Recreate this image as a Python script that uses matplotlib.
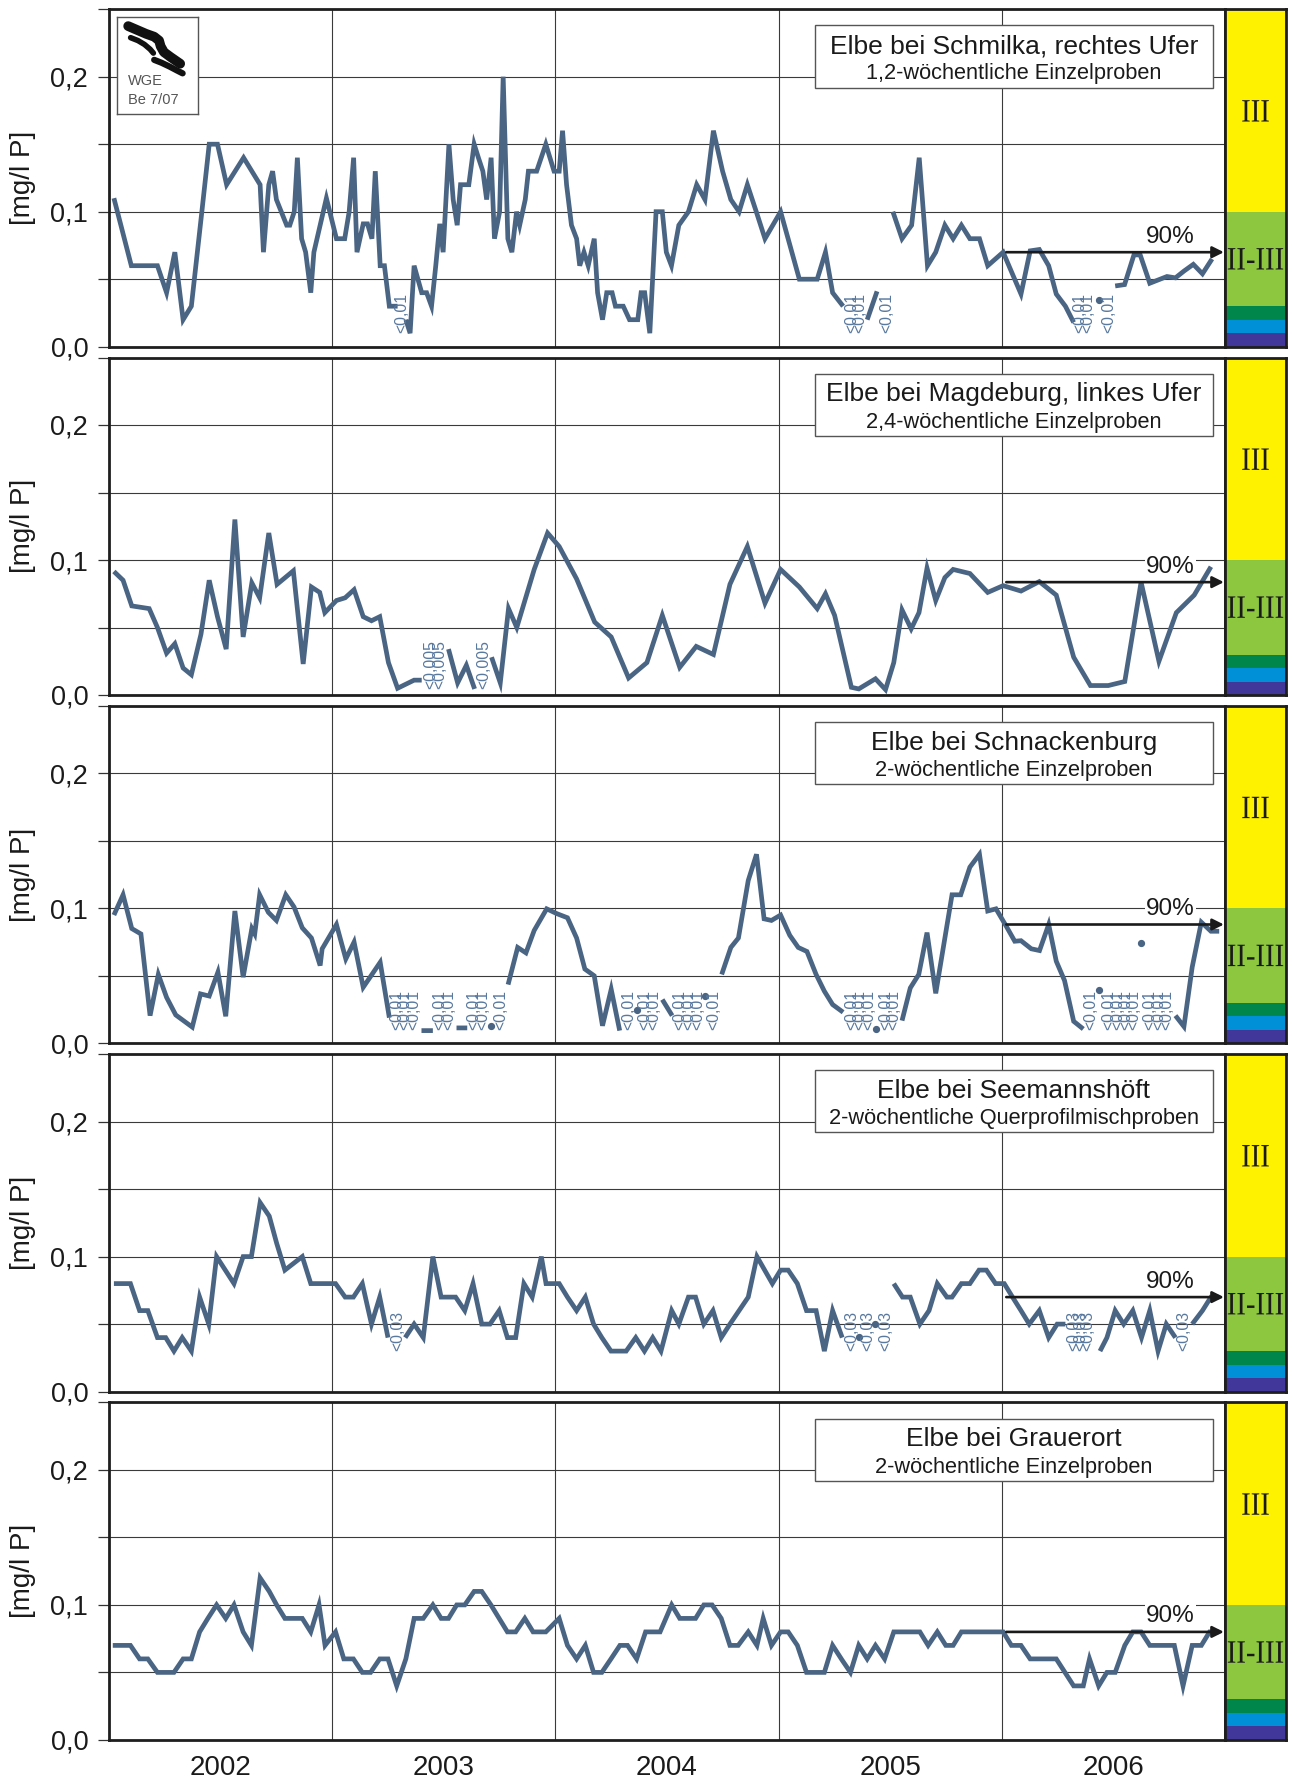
import numpy as np
import matplotlib
matplotlib.use("Agg")
import matplotlib.pyplot as plt
import matplotlib.transforms as mtrans
from matplotlib.patches import Rectangle, PathPatch
from matplotlib.textpath import TextPath
from matplotlib.font_manager import FontProperties

plt.rcParams["font.family"] = ["Liberation Sans", "DejaVu Sans"]

nan = np.nan

# ---- station names / sampling ----
stations = ["Elbe bei Schmilka, rechtes Ufer", "Elbe bei Magdeburg, linkes Ufer",
            "Elbe bei Schnackenburg", "Elbe bei Seemannshöft", "Elbe bei Grauerort"]
sampling = ["1,2-wöchentliche Einzelproben", "2,4-wöchentliche Einzelproben",
            "2-wöchentliche Einzelproben", "2-wöchentliche Querprofilmischproben",
            "2-wöchentliche Einzelproben"]

# 90-percentile of the final year per station [mg/l P]
p90_2006 = [0.070, 0.0836, 0.088, 0.070, 0.080]

# ---- measurements: decimal year / mg/l P (nan = below detection limit) ----
schmilka_t = [2002.022, 2002.100, 2002.217, 2002.258, 2002.295, 2002.332, 2002.369, 2002.416, 2002.449, 2002.486,
              2002.527, 2002.603, 2002.677, 2002.692, 2002.716, 2002.733, 2002.750, 2002.796, 2002.810, 2002.830,
              2002.844, 2002.863, 2002.881, 2002.904, 2002.918, 2002.974, 2003.019, 2003.056, 2003.076, 2003.096,
              2003.111, 2003.139, 2003.158, 2003.178, 2003.193, 2003.215, 2003.234, 2003.256, 2003.293, 2003.312,
              2003.330, 2003.349, 2003.367, 2003.401, 2003.423, 2003.445, 2003.464, 2003.482, 2003.497, 2003.523,
              2003.542, 2003.560, 2003.575, 2003.612, 2003.636, 2003.655, 2003.675, 2003.692, 2003.712, 2003.727,
              2003.750, 2003.766, 2003.787, 2003.805, 2003.826, 2003.840, 2003.865, 2003.879, 2003.916, 2003.957,
              2003.994, 2004.017, 2004.032, 2004.050, 2004.072, 2004.095, 2004.109, 2004.128, 2004.147, 2004.174,
              2004.189, 2004.211, 2004.230, 2004.254, 2004.269, 2004.304, 2004.332, 2004.369, 2004.384, 2004.400,
              2004.423, 2004.451, 2004.479, 2004.497, 2004.520, 2004.553, 2004.596, 2004.633, 2004.670, 2004.708,
              2004.749, 2004.786, 2004.823, 2004.860, 2004.900, 2004.939, 2005.009, 2005.093, 2005.173, 2005.210,
              2005.242, 2005.289, 2005.326, 2005.397, 2005.441, 2005.484, 2005.512, 2005.553, 2005.596, 2005.630,
              2005.667, 2005.704, 2005.745, 2005.782, 2005.819, 2005.857, 2005.900, 2005.937, 2006.006, 2006.086,
              2006.127, 2006.168, 2006.210, 2006.244, 2006.285, 2006.322, 2006.350, 2006.434, 2006.480, 2006.508,
              2006.550, 2006.592, 2006.620, 2006.663, 2006.740, 2006.778, 2006.816, 2006.858, 2006.899, 2006.942]
schmilka_p = [0.110, 0.060, 0.060, 0.040, 0.070, 0.020, 0.030, 0.100, 0.150, 0.150,
              0.120, 0.140, 0.120, 0.070, 0.120, 0.130, 0.109, 0.090, 0.090, 0.100,
              0.140, 0.080, 0.070, 0.040, 0.070, 0.110, 0.080, 0.080, 0.100, 0.140,
              0.070, 0.091, 0.091, 0.080, 0.130, 0.060, 0.060, 0.030, 0.030, nan,
              0.020, 0.010, 0.060, 0.040, 0.040, 0.030, 0.060, 0.091, 0.070, 0.150,
              0.109, 0.090, 0.120, 0.120, 0.150, 0.140, 0.130, 0.109, 0.140, 0.080,
              0.100, 0.200, 0.080, 0.070, 0.100, 0.090, 0.109, 0.130, 0.130, 0.150,
              0.130, 0.130, 0.160, 0.120, 0.090, 0.080, 0.060, 0.070, 0.060, 0.080,
              0.040, 0.020, 0.040, 0.040, 0.030, 0.030, 0.020, 0.020, 0.040, 0.040,
              0.010, 0.100, 0.100, 0.070, 0.060, 0.090, 0.100, 0.120, 0.109, 0.160,
              0.130, 0.109, 0.100, 0.120, 0.100, 0.080, 0.100, 0.050, 0.050, 0.070,
              0.040, 0.030, nan, 0.020, 0.041, nan, 0.100, 0.080, 0.090, 0.140,
              0.060, 0.070, 0.090, 0.080, 0.090, 0.080, 0.080, 0.060, 0.070, 0.039,
              0.071, 0.072, 0.060, 0.039, 0.030, 0.018, nan, 0.0345, nan, 0.045,
              0.046, 0.068, 0.068, 0.047, 0.052, 0.051, 0.056, 0.061, 0.054, 0.065]

magdeburg_t = [2002.022, 2002.063, 2002.102, 2002.180, 2002.217, 2002.258, 2002.295, 2002.332, 2002.369, 2002.412,
               2002.449, 2002.486, 2002.525, 2002.564, 2002.601, 2002.640, 2002.675, 2002.716, 2002.753, 2002.826,
               2002.870, 2002.907, 2002.944, 2002.967, 2003.019, 2003.058, 2003.098, 2003.139, 2003.176, 2003.213,
               2003.252, 2003.293, 2003.367, 2003.401, 2003.442, 2003.521, 2003.562, 2003.601, 2003.638, 2003.679,
               2003.714, 2003.753, 2003.790, 2003.827, 2003.905, 2003.965, 2004.017, 2004.095, 2004.176, 2004.250,
               2004.328, 2004.410, 2004.479, 2004.557, 2004.631, 2004.708, 2004.782, 2004.860, 2004.939, 2005.009,
               2005.093, 2005.173, 2005.210, 2005.251, 2005.326, 2005.359, 2005.434, 2005.479, 2005.516, 2005.553,
               2005.594, 2005.629, 2005.665, 2005.704, 2005.745, 2005.782, 2005.857, 2005.937, 2006.006, 2006.086,
               2006.168, 2006.244, 2006.322, 2006.397, 2006.477, 2006.551, 2006.624, 2006.704, 2006.782, 2006.862,
               2006.937]
magdeburg_p = [0.0915, 0.085, 0.066, 0.064, 0.050, 0.031, 0.038, 0.020, 0.015, 0.045,
               0.085, 0.058, 0.034, 0.130, 0.043, 0.083, 0.072, 0.120, 0.082, 0.092,
               0.023, 0.080, 0.076, 0.061, 0.070, 0.072, 0.078, 0.058, 0.055, 0.058,
               0.024, 0.005, 0.011, 0.011, nan, 0.034, 0.009, 0.022, 0.0045, nan,
               0.028, 0.009, 0.064, 0.050, 0.093, 0.120, 0.110, 0.086, 0.054, 0.043,
               0.0126, 0.024, 0.059, 0.0205, 0.036, 0.030, 0.082, 0.110, 0.068, 0.093,
               0.080, 0.064, 0.075, 0.059, 0.0057, 0.0045, 0.012, 0.004, 0.024, 0.063,
               0.049, 0.061, 0.094, 0.070, 0.087, 0.093, 0.090, 0.076, 0.081, 0.077,
               0.084, 0.074, 0.028, 0.007, 0.007, 0.010, 0.0836, 0.025, 0.061, 0.074,
               0.095]

schnackenburg_t = [2002.022, 2002.063, 2002.102, 2002.143, 2002.184, 2002.221, 2002.258, 2002.299, 2002.373, 2002.410,
                   2002.449, 2002.488, 2002.523, 2002.564, 2002.601, 2002.640, 2002.653, 2002.675, 2002.714, 2002.750,
                   2002.792, 2002.829, 2002.866, 2002.907, 2002.946, 2002.955, 2003.019, 2003.061, 2003.098, 2003.139,
                   2003.215, 2003.256, 2003.288, 2003.400, 2003.451, 2003.484, 2003.557, 2003.605, 2003.636, 2003.713,
                   2003.757, 2003.788, 2003.831, 2003.868, 2003.905, 2003.961, 2004.007, 2004.054, 2004.095, 2004.132,
                   2004.174, 2004.211, 2004.250, 2004.288, 2004.328, 2004.365, 2004.400, 2004.479, 2004.523, 2004.557,
                   2004.669, 2004.711, 2004.745, 2004.786, 2004.820, 2004.864, 2004.901, 2004.935, 2004.968, 2005.009,
                   2005.050, 2005.088, 2005.127, 2005.168, 2005.205, 2005.242, 2005.289, 2005.326, 2005.438, 2005.479,
                   2005.553, 2005.590, 2005.628, 2005.665, 2005.704, 2005.777, 2005.816, 2005.857, 2005.900, 2005.937,
                   2005.974, 2006.019, 2006.058, 2006.086, 2006.132, 2006.169, 2006.210, 2006.244, 2006.281, 2006.322,
                   2006.365, 2006.397, 2006.434, 2006.480, 2006.624, 2006.663, 2006.778, 2006.816, 2006.853, 2006.894,
                   2006.937, 2006.974]
schnackenburg_p = [0.095, 0.110, 0.085, 0.081, 0.0205, 0.051, 0.034, 0.021, 0.012, 0.0366,
                   0.035, 0.0527, 0.020, 0.098, 0.049, 0.085, 0.081, 0.110, 0.097, 0.091,
                   0.110, 0.101, 0.0855, 0.078, 0.0576, 0.070, 0.088, 0.0625, 0.075, 0.0415,
                   0.060, 0.019, nan, 0.0094, 0.0094, nan, 0.0114, 0.0114, nan, 0.013,
                   nan, 0.0435, 0.071, 0.067, 0.0836, 0.0996, 0.096, 0.093, 0.078, 0.055,
                   0.050, 0.013, 0.040, 0.0094, nan, 0.0247, nan, 0.0324, 0.0205, nan,
                   0.035, nan, 0.051, 0.071, 0.078, 0.1206, 0.140, 0.0922, 0.091, 0.095,
                   0.080, 0.071, 0.068, 0.051, 0.0386, 0.0287, 0.023, nan, 0.0106, nan,
                   0.0168, 0.041, 0.051, 0.082, 0.037, 0.110, 0.110, 0.1305, 0.140, 0.098,
                   0.0996, 0.087, 0.0756, 0.076, 0.070, 0.0687, 0.088, 0.0608, 0.0465, 0.0163,
                   0.0106, nan, 0.0396, nan, 0.0744, nan, 0.0205, 0.0124, 0.0564, 0.0897,
                   0.083, 0.083]

seemannshoeft_t = [2002.022, 2002.096, 2002.137, 2002.174, 2002.217, 2002.254, 2002.291, 2002.328, 2002.369, 2002.406,
                   2002.447, 2002.482, 2002.560, 2002.601, 2002.638, 2002.677, 2002.718, 2002.751, 2002.788, 2002.866,
                   2002.904, 2003.015, 2003.058, 2003.095, 2003.135, 2003.176, 2003.213, 2003.250, 2003.293, 2003.327,
                   2003.367, 2003.408, 2003.451, 2003.488, 2003.553, 2003.594, 2003.631, 2003.670, 2003.707, 2003.748,
                   2003.785, 2003.822, 2003.859, 2003.896, 2003.937, 2003.958, 2004.017, 2004.054, 2004.095, 2004.134,
                   2004.171, 2004.208, 2004.249, 2004.317, 2004.360, 2004.399, 2004.436, 2004.473, 2004.521, 2004.553,
                   2004.596, 2004.628, 2004.665, 2004.706, 2004.743, 2004.782, 2004.823, 2004.864, 2004.903, 2004.972,
                   2005.009, 2005.043, 2005.084, 2005.125, 2005.168, 2005.205, 2005.242, 2005.285, 2005.326, 2005.359,
                   2005.400, 2005.434, 2005.479, 2005.516, 2005.555, 2005.590, 2005.633, 2005.674, 2005.711, 2005.754,
                   2005.777, 2005.819, 2005.857, 2005.898, 2005.931, 2005.972, 2006.011, 2006.048, 2006.086, 2006.123,
                   2006.168, 2006.210, 2006.248, 2006.285, 2006.322, 2006.440, 2006.471, 2006.508, 2006.546, 2006.587,
                   2006.626, 2006.663, 2006.700, 2006.737, 2006.778, 2006.816, 2006.853, 2006.899, 2006.937, 2006.974]
seemannshoeft_p = [0.080, 0.080, 0.060, 0.060, 0.040, 0.040, 0.030, 0.040, 0.030, 0.070,
                   0.050, 0.100, 0.080, 0.100, 0.100, 0.140, 0.130, 0.110, 0.090, 0.100,
                   0.080, 0.080, 0.070, 0.070, 0.080, 0.050, 0.070, 0.040, nan, 0.040,
                   0.050, 0.040, 0.100, 0.070, 0.070, 0.060, 0.080, 0.050, 0.050, 0.060,
                   0.040, 0.040, 0.080, 0.070, 0.100, 0.080, 0.080, 0.070, 0.060, 0.070,
                   0.050, 0.040, 0.030, 0.030, 0.040, 0.030, 0.040, 0.030, 0.060, 0.050,
                   0.070, 0.070, 0.050, 0.060, 0.040, 0.050, 0.060, 0.070, 0.100, 0.080,
                   0.090, 0.090, 0.080, 0.060, 0.060, 0.030, 0.060, 0.040, nan, 0.0405,
                   nan, 0.050, nan, 0.080, 0.070, 0.070, 0.050, 0.060, 0.080, 0.070,
                   0.070, 0.080, 0.080, 0.090, 0.090, 0.080, 0.080, 0.070, 0.060, 0.050,
                   0.060, 0.040, 0.050, 0.050, nan, 0.030, 0.040, 0.060, 0.050, 0.060,
                   0.040, 0.060, 0.030, 0.050, 0.040, nan, 0.050, 0.060, 0.070, 0.070]

grauerort_t = [2002.017, 2002.096, 2002.137, 2002.174, 2002.217, 2002.291, 2002.332, 2002.369, 2002.406, 2002.443,
               2002.482, 2002.523, 2002.560, 2002.601, 2002.638, 2002.677, 2002.718, 2002.751, 2002.788, 2002.866,
               2002.904, 2002.941, 2002.968, 2003.015, 2003.052, 2003.095, 2003.135, 2003.172, 2003.213, 2003.250,
               2003.289, 2003.330, 2003.367, 2003.408, 2003.451, 2003.488, 2003.521, 2003.558, 2003.594, 2003.636,
               2003.670, 2003.711, 2003.748, 2003.785, 2003.822, 2003.863, 2003.900, 2003.957, 2004.017, 2004.054,
               2004.095, 2004.134, 2004.171, 2004.208, 2004.249, 2004.289, 2004.323, 2004.364, 2004.404, 2004.469,
               2004.521, 2004.557, 2004.628, 2004.665, 2004.702, 2004.743, 2004.782, 2004.819, 2004.864, 2004.903,
               2004.931, 2004.968, 2005.009, 2005.043, 2005.084, 2005.125, 2005.205, 2005.242, 2005.285, 2005.322,
               2005.359, 2005.397, 2005.434, 2005.475, 2005.516, 2005.633, 2005.670, 2005.711, 2005.749, 2005.782,
               2005.819, 2006.006, 2006.043, 2006.086, 2006.127, 2006.244, 2006.322, 2006.365, 2006.393, 2006.434,
               2006.471, 2006.508, 2006.551, 2006.587, 2006.624, 2006.663, 2006.773, 2006.812, 2006.853, 2006.894,
               2006.931, 2006.974]
grauerort_p = [0.070, 0.070, 0.060, 0.060, 0.050, 0.050, 0.060, 0.060, 0.080, 0.090,
               0.100, 0.090, 0.100, 0.080, 0.070, 0.120, 0.110, 0.100, 0.090, 0.090,
               0.080, 0.100, 0.070, 0.080, 0.060, 0.060, 0.050, 0.050, 0.060, 0.060,
               0.040, 0.060, 0.090, 0.090, 0.100, 0.090, 0.090, 0.100, 0.100, 0.110,
               0.110, 0.100, 0.090, 0.080, 0.080, 0.090, 0.080, 0.080, 0.090, 0.070,
               0.060, 0.070, 0.050, 0.050, 0.060, 0.070, 0.070, 0.060, 0.080, 0.080,
               0.100, 0.090, 0.090, 0.100, 0.100, 0.090, 0.070, 0.070, 0.080, 0.070,
               0.090, 0.070, 0.080, 0.080, 0.070, 0.050, 0.050, 0.070, 0.059, 0.050,
               0.070, 0.060, 0.070, 0.060, 0.080, 0.080, 0.070, 0.080, 0.070, 0.070,
               0.080, 0.080, 0.070, 0.070, 0.060, 0.060, 0.040, 0.040, 0.060, 0.040,
               0.050, 0.050, 0.070, 0.080, 0.080, 0.070, 0.070, 0.040, 0.070, 0.070,
               0.080, 0.080]

# ---- samples below the detection limit (date, limit text, limit value) ----
schmilka_bdl = [2003.312, 2005.326, 2005.363, 2005.484, 2006.350, 2006.387, 2006.480]
magdeburg_bdl = [2003.442, 2003.482, 2003.679]
schnackenburg_bdl = [2003.288, 2003.325, 2003.364, 2003.484, 2003.521, 2003.636, 2003.673, 2003.757,
                     2004.328, 2004.400, 2004.441, 2004.557, 2004.596, 2004.637, 2004.711,
                     2005.326, 2005.363, 2005.404, 2005.479, 2005.516,
                     2006.397, 2006.480, 2006.518, 2006.555, 2006.592, 2006.663, 2006.704, 2006.741]
seemannshoeft_bdl = [2003.293, 2005.326, 2005.400, 2005.479, 2006.322, 2006.354, 2006.387, 2006.816]
grauerort_bdl = []
bdl_text = ["<0,01", "<0,005", "<0,01", "<0,03", ""]
bdl_value = [0.010, 0.0045, 0.0095, 0.030, 0.0]

series_t = [schmilka_t, magdeburg_t, schnackenburg_t, seemannshoeft_t, grauerort_t]
series_p = [schmilka_p, magdeburg_p, schnackenburg_p, seemannshoeft_p, grauerort_p]
series_bdl = [schmilka_bdl, magdeburg_bdl, schnackenburg_bdl, seemannshoeft_bdl, grauerort_bdl]

# ---- quality classes ----
class_edges = [0.0, 0.01, 0.02, 0.03, 0.10, 0.25]
class_colors = ["#41369a", "#0090d8", "#00854a", "#8dc63f", "#fff200"]
class_labels = [(0.1747, "III"), (0.0651, "II-III")]

years = [2002, 2003, 2004, 2005, 2006]
yticks = [0.0, 0.05, 0.10, 0.15, 0.20, 0.25]
ytick_labels = ["0,0", "", "0,1", "", "0,2", ""]

LINE = "#4a6484"
LABEL = "#58789e"
FRAME = "#1e1e1e"

W, H = 1292, 1782
DPI = 100
fig = plt.figure(figsize=(W / DPI, H / DPI), dpi=DPI)

left_px, plot_w_px, cbar_w_px = 109, 1116, 61
first_bottom_px, pitch_px, panel_h_px = 346.7, 348.3, 337.5

serif = FontProperties(family=["Liberation Serif", "DejaVu Serif"])


def narrow_label(ax, x, y, s, size_pt, xscale):
    """Centred, horizontally condensed text drawn as a path."""
    tp = TextPath((0, 0), s, size=size_pt, prop=serif)
    bb = tp.get_extents()
    k = DPI / 72.0
    tr = (mtrans.Affine2D().translate(-(bb.x0 + bb.x1) / 2, -(bb.y0 + bb.y1) / 2)
          .scale(xscale * k, k)
          + mtrans.ScaledTranslation(x, y, ax.transData))
    patch = PathPatch(tp, transform=tr, facecolor="#1a1a1a", lw=0, zorder=5, clip_on=False)
    ax.add_artist(patch)


for i in range(5):
    bot = 1 - (first_bottom_px + pitch_px * i) / H
    ax = fig.add_axes([left_px / W, bot, plot_w_px / W, panel_h_px / H])
    cax = fig.add_axes([(left_px + plot_w_px) / W, bot, cbar_w_px / W, panel_h_px / H])

    ax.set_xlim(2002, 2007)
    ax.set_ylim(0, 0.25)

    t = np.array(series_t[i], float)
    p = np.array(series_p[i], float)
    ax.plot(t, p, color=LINE, lw=3.4, solid_joinstyle="miter", solid_capstyle="butt", zorder=3)
    prev_nan = np.isnan(np.r_[nan, p[:-1]])
    next_nan = np.isnan(np.r_[p[1:], nan])
    iso = ~np.isnan(p) & prev_nan & next_nan
    ax.plot(t[iso], p[iso], "o", color=LINE, ms=4.2, zorder=3)

    for d in series_bdl[i]:
        ax.text(d, bdl_value[i], bdl_text[i], rotation=90, ha="center", va="bottom",
                fontsize=11.3, color=LABEL, zorder=4)

    # grid and ticks
    ax.set_yticks(yticks)
    ax.set_yticklabels(ytick_labels, fontsize=19.5, color="#1a1a1a")
    ax.set_xticks([2003, 2004, 2005, 2006])
    ax.set_xticklabels([])
    ax.grid(True, which="major", color="#3a3a3a", lw=0.8, zorder=1)
    ax.tick_params(axis="y", direction="out", length=8, width=0.9, pad=7, color="#333")
    ax.tick_params(axis="x", which="both", length=0)
    if i == 4:
        ax.set_xticks([y + 0.5 for y in years], minor=True)
        ax.set_xticklabels([str(y) for y in years], minor=True, fontsize=20, color="#1a1a1a")
        ax.tick_params(axis="x", which="minor", pad=11)
    for s in ax.spines.values():
        s.set_linewidth(2.0)
        s.set_color(FRAME)
        s.set_zorder(6)

    ax.set_ylabel("[mg/l P]", fontsize=20, color="#1a1a1a")
    ax.yaxis.set_label_coords(-0.0655, 0.5)

    # station box
    ax.add_patch(Rectangle((2005.162, 0.192), 1.784, 0.046, facecolor="white",
                           edgecolor="#555555", lw=1.0, zorder=5))
    ax.text(2006.054, 0.2175, stations[i], ha="center", va="baseline", fontsize=19,
            color="#1a1a1a", zorder=6)
    ax.text(2006.054, 0.198, sampling[i], ha="center", va="baseline", fontsize=15.7,
            color="#1a1a1a", zorder=6)

    # 90-percentile arrow
    lvl = p90_2006[i]
    ax.annotate("", xy=(2006.995, lvl), xytext=(2006.02, lvl),
                arrowprops=dict(arrowstyle="-|>", lw=1.9, color="#1a1a1a",
                                mutation_scale=17, shrinkA=0, shrinkB=0), zorder=5)
    ax.text(2006.756, lvl + 0.0115, "90%", ha="center", va="center", fontsize=17.5,
            color="#1a1a1a", zorder=5,
            bbox=dict(facecolor="white", edgecolor="none", pad=1.0))

    # class colour bar
    cax.set_xlim(0, 1)
    cax.set_ylim(0, 0.25)
    for k in range(len(class_colors)):
        cax.axhspan(class_edges[k], class_edges[k + 1], color=class_colors[k], lw=0)
    for yv, lab in class_labels:
        narrow_label(cax, 0.5, yv, lab, 23.5, 0.88)
    cax.set_xticks([])
    cax.set_yticks([])
    for s in cax.spines.values():
        s.set_linewidth(2.0)
        s.set_color(FRAME)

    if i == 0:
        logo = ax.inset_axes([0.007, 0.690, 0.0728, 0.2856])
        logo.set_xlim(0, 1)
        logo.set_ylim(0, 1)
        logo.set_xticks([])
        logo.set_yticks([])
        for s in logo.spines.values():
            s.set_linewidth(1.0)
            s.set_color("#555555")
        logo.set_zorder(7)
        strokes = [
            ([0.14, 0.25, 0.36, 0.46, 0.52, 0.54, 0.58, 0.66, 0.78],
             [0.91, 0.87, 0.83, 0.80, 0.76, 0.70, 0.64, 0.59, 0.52], 7.0),
            ([0.17, 0.26, 0.34, 0.41, 0.45],
             [0.79, 0.76, 0.72, 0.67, 0.63], 4.0),
            ([0.46, 0.55, 0.65, 0.74, 0.81],
             [0.56, 0.53, 0.49, 0.45, 0.42], 4.5),
        ]
        for xs, ys, w in strokes:
            logo.plot(xs, ys, color="#111111", lw=w, solid_capstyle="round", solid_joinstyle="round")
        logo.text(0.14, 0.294, "WGE", fontsize=10.5, color="#555555", va="baseline", ha="left")
        logo.text(0.14, 0.098, "Be 7/07", fontsize=10.5, color="#555555", va="baseline", ha="left")

fig.savefig("out.png", dpi=DPI)
